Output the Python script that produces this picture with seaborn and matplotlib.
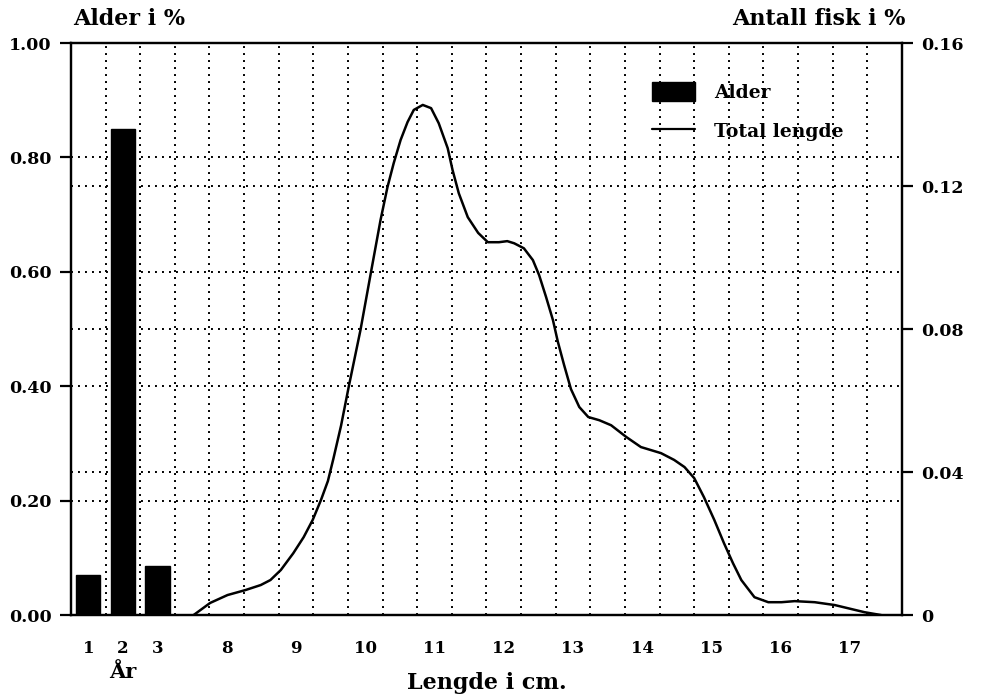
import numpy as np
import matplotlib
matplotlib.use("Agg")
import matplotlib.pyplot as plt
import seaborn as sns
from matplotlib.patches import Patch
from matplotlib.lines import Line2D

# ---- data ----
ages = ["1", "2", "3"]
age_share = [0.07, 0.85, 0.085]

length_cm = [7.52, 7.76, 8.01, 8.27, 8.49, 8.63, 8.78, 8.96, 9.11, 9.24,
             9.36, 9.46, 9.54, 9.65, 9.76, 9.93, 10.08, 10.22, 10.32, 10.41,
             10.51, 10.61, 10.70, 10.83, 10.95, 11.06, 11.19, 11.26, 11.35,
             11.48, 11.63, 11.77, 11.93, 12.05, 12.15, 12.29, 12.42, 12.51,
             12.61, 12.71, 12.78, 12.87, 12.97, 13.09, 13.22, 13.38, 13.55,
             13.77, 13.98, 14.27, 14.46, 14.61, 14.75, 14.89, 15.04, 15.18,
             15.31, 15.43, 15.62, 15.82, 16.01, 16.20, 16.49, 16.78, 17.21,
             17.45]
fish_share = [0.0, 0.0034, 0.0056, 0.0070, 0.0084, 0.0098, 0.0126, 0.0173,
              0.0218, 0.0266, 0.0322, 0.0375, 0.0438, 0.0530, 0.0638, 0.0797,
              0.0957, 0.1105, 0.1197, 0.1264, 0.1329, 0.1379, 0.1413, 0.1427,
              0.1418, 0.1376, 0.1306, 0.1245, 0.1180, 0.1113, 0.1069, 0.1043,
              0.1043, 0.1046, 0.1040, 0.1026, 0.0993, 0.0951, 0.0890, 0.0825,
              0.0765, 0.0700, 0.0632, 0.0582, 0.0554, 0.0545, 0.0531, 0.0498,
              0.0470, 0.0453, 0.0434, 0.0414, 0.0383, 0.0330, 0.0266, 0.0201,
              0.0145, 0.0098, 0.0050, 0.0036, 0.0036, 0.0039, 0.0036, 0.0028,
              0.0008, 0.0]

length_ticks = [7.5, 8, 8.5, 9, 9.5, 10, 10.5, 11, 11.5, 12, 12.5, 13, 13.5,
                14, 14.5, 15, 15.5, 16, 16.5, 17, 17.5]
left_ticks = [0.0, 0.2, 0.4, 0.6, 0.8, 1.0]
right_ticks = [0.0, 0.04, 0.08, 0.12, 0.16]

sns.set_style("white")
plt.rcParams["font.family"] = ["DejaVu Serif"]
plt.rcParams["font.weight"] = "bold"
plt.rcParams["text.color"] = "black"


def cm_pos(cm):
    # ages sit on slots 0..2, half-cm steps follow from slot 3 (7.5 cm)
    return 2 * np.asarray(cm) - 12


fig = plt.figure(figsize=(10.07, 6.95), dpi=100)
ax = fig.add_axes([0.0705, 0.115, 0.8252, 0.823])
ax2 = ax.twinx()
ax.set_zorder(ax2.get_zorder() + 1)
ax.patch.set_visible(False)

dots = dict(color="black", linestyle=(0, (1, 2.6)), linewidth=1.4)

sns.barplot(x=ages, y=age_share, color="black", saturation=1, width=0.7,
            edgecolor="black", ax=ax)
sns.lineplot(x=cm_pos(length_cm), y=fish_share, color="black", linewidth=1.8,
             ax=ax2)

ax.set_xlim(-0.5, 23.5)
ax.set_ylim(0, 1)
ax2.set_ylim(0, 0.16)

tick_pos = list(range(len(ages))) + list(cm_pos(length_ticks))
tick_lab = ages + [("%g" % t if float(t).is_integer() else "") for t in length_ticks]
ax.set_xticks(tick_pos)
ax.set_xticklabels(tick_lab, fontsize=12, fontweight="bold")
ax.set_xticks(np.arange(0.5, 23, 1.0), minor=True)

ax.set_yticks(left_ticks)
ax.set_yticklabels(["%.2f" % t for t in left_ticks], fontsize=12.5,
                   fontweight="bold")
ax2.set_yticks(right_ticks)
ax2.set_yticklabels(["0"] + ["%.2f" % t for t in right_ticks[1:]], fontsize=12.5,
                    fontweight="bold")

ax.yaxis.grid(True, **dots)
ax.xaxis.grid(True, which="minor", **dots)
ax2.yaxis.grid(True, **dots)
ax.set_axisbelow(True)

ax.tick_params(axis="x", which="major", direction="out", length=8, width=1.6,
               pad=10, colors="black")
ax.tick_params(axis="x", which="minor", length=0)
ax.tick_params(axis="y", direction="out", length=8, width=1.6, pad=6,
               colors="black")
ax2.tick_params(axis="y", direction="out", length=8, width=1.6, pad=6,
                colors="black")
for a in (ax, ax2):
    for s in a.spines.values():
        s.set_visible(True)
        s.set_color("black")
        s.set_linewidth(1.6)
ax.set_xlabel("")
ax.set_ylabel("")
ax2.set_ylabel("")

ax.text(1, -0.099, "År", transform=ax.get_xaxis_transform(), ha="center",
        va="center", fontsize=15, fontweight="bold", color="black")
ax.text(0.5, -0.119, "Lengde i cm.", transform=ax.transAxes, ha="center",
        va="center", fontsize=16, fontweight="bold", color="black")
fig.text(73 / 1007, 1 - 19 / 695, "Alder i %", ha="left", va="center",
         fontsize=16, fontweight="bold", color="black")
fig.text(905 / 1007, 1 - 19 / 695, "Antall fisk i %", ha="right", va="center",
         fontsize=16, fontweight="bold", color="black")

handles = [Patch(facecolor="black", edgecolor="black", label="Alder"),
           Line2D([], [], color="black", linewidth=1.6, label="Total lengde")]
ax.legend(handles=handles, loc="upper left", bbox_to_anchor=(0.699, 0.932),
          frameon=False, borderpad=0, borderaxespad=0, handlelength=2.3,
          handleheight=1.2, handletextpad=1.0, labelspacing=1.0,
          prop=dict(size=13.5, weight="bold"))

fig.savefig("out.png", dpi=100)
